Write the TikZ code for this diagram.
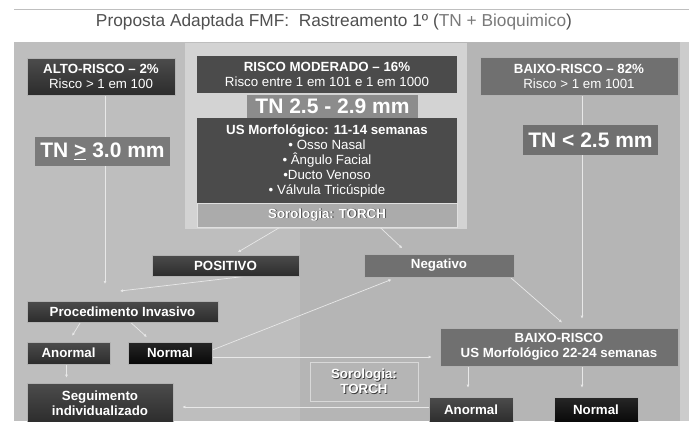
\documentclass[tikz,border=0pt]{standalone}
\usepackage{fontspec}
\setmainfont{Liberation Sans}
\usetikzlibrary{arrows.meta}
\pgfdeclarelayer{bg}
\pgfsetlayers{bg,main}
\definecolor{panelL}{HTML}{BEBEBE}
\definecolor{panelR}{HTML}{B5B5B5}
\definecolor{frameC}{HTML}{D3D3D3}
\definecolor{darkT}{HTML}{4C4C4C}
\definecolor{darkB}{HTML}{2C2C2C}
\definecolor{midC}{HTML}{707070}
\definecolor{modC}{HTML}{4B4B4B}
\definecolor{lineC}{HTML}{E8E8E8}
\definecolor{titleC}{HTML}{505050}
\newcommand\shd[1]{\makebox[0pt][l]{\kern0.8pt\raisebox{-0.8pt}{\textcolor[HTML]{3A3A3A}{#1}}}#1}
\tikzset{
  box/.style={rectangle, inner sep=0pt, align=center, text=white, draw=#1, line width=0.6pt},
  box/.default={gray!60},
  darkbox/.style={box, top color=darkT, bottom color=darkB},
  blackbox/.style={box, top color=black!85, bottom color=black!97},
  midbox/.style={box, fill=midC},
  modbox/.style={box, fill=modC, draw=none},
  txt/.style={font=\fontsize{13.3}{15}\selectfont},
  btxt/.style={font=\fontsize{13.3}{15}\selectfont\bfseries},
  big/.style={font=\fontsize{21}{24}\selectfont\bfseries},
  conn/.style={draw=lineC, line width=0.7pt, -{Latex[length=3pt,width=3pt]}},
}
\begin{document}
\begin{tikzpicture}[x=1pt,y=-1pt]
\useasboundingbox (0,0) rectangle (689,421);
% title
\node (title) at (334,22) {\fontsize{17.3}{19}\selectfont\textcolor{titleC}{Proposta Adaptada FMF:\ \ Rastreamento 1º (\textcolor[HTML]{7A7A7A}{TN + Bioquimico})}};
% left column
\node[darkbox, txt, minimum width=148pt, minimum height=37pt] (alto) at (101,76.5)
  {\textbf{ALTO-RISCO – 2\%}\\Risco > 1 em 100};
\node[box, fill=black!52, draw=none, big, minimum width=135pt, minimum height=29pt] (tn3) at (102.5,151.5)
  {TN \underline{>} 3.0 mm};
% middle column
\node[modbox, txt, minimum width=260pt, minimum height=37pt] (mod) at (327,74.5)
  {\textbf{RISCO MODERADO – 16\%}\\Risco entre 1 em 101 e 1 em 1000};
\node[box, fill=black!45, draw=none, big, minimum width=171pt, minimum height=23pt] (tn25) at (332.5,106.5)
  {TN 2.5 - 2.9 mm};
\node[modbox, txt, minimum width=260pt, minimum height=85pt] (us) at (327,160.5)
  {\textbf{US Morfológico: 11-14 semanas}\\• Osso Nasal\\• Ângulo Facial\\•Ducto Venoso\\• Válvula Tricúspide};
\node[box=white!88!black, fill=black!33, btxt, minimum width=260pt, minimum height=24pt] (sor) at (327,215)
  {\shd{Sorologia: TORCH}};
% right column
\node[midbox=white!80!black, txt, minimum width=198pt, minimum height=38pt] (baixo) at (579,76)
  {\textbf{BAIXO-RISCO – 82\%}\\Risco > 1 em 1001};
\node[box, fill=midC, draw=none, big, minimum width=135pt, minimum height=30pt] (tnlt) at (590.5,140)
  {TN < 2.5 mm};
% lower part
\node[darkbox, btxt, minimum width=147pt, minimum height=21pt] (pos) at (225.5,265.5) {POSITIVO};
\node[midbox=white!80!black, btxt, minimum width=150pt, minimum height=23pt] (neg) at (439,265.5) {Negativo};
\node[darkbox, btxt, minimum width=191pt, minimum height=21pt] (proc) at (122.5,311.5) {Procedimento Invasivo};
\node[darkbox, btxt, minimum width=83pt, minimum height=22pt] (anl) at (68.5,353) {Anormal};
\node[blackbox, btxt, minimum width=84pt, minimum height=22pt] (nol) at (170,353) {Normal};
\node[darkbox, btxt, minimum width=146pt, minimum height=40pt] (seg) at (100,403) {Seguimento\\individualizado};
\node[box=white!85!black, text=white, btxt, minimum width=108pt, minimum height=39pt] (sorb) at (364,381.5)
  {\shd{Sorologia:}\\\shd{TORCH}};
\node[midbox=white!80!black, btxt, minimum width=238pt, minimum height=38pt] (bus) at (559,347)
  {BAIXO-RISCO\\US Morfológico 22-24 semanas};
\node[darkbox, btxt, minimum width=84pt, minimum height=26pt] (anr) at (471,410) {Anormal};
\node[blackbox, btxt, minimum width=84pt, minimum height=26pt] (nor) at (596,410) {Normal};
% free ends and anchor points
\coordinate (e1) at (105,284);
\coordinate (e4) at (120,291);
\coordinate (n1) at ([yshift=-4pt]nol.east);
\coordinate (a1) at ([yshift=3pt]anr.west);
\begin{pgfonlayer}{bg}
  \fill[white] (0,0) rectangle (689,421);
  \draw[gray!50, line width=0.8pt] (14,9) -- (689,9);
  \fill[panelL] (14,42) rectangle (300,421);
  \fill[panelR] (300,42) rectangle (680,421);
  \fill[white!80!black] (680,42) rectangle (689,421);
  \fill[frameC] (185,43) rectangle (467,229);
  % connectors
  \draw[conn] (alto.south -| e1) -- (e1);
  \draw[conn, shorten >=5pt] ([xshift=-47pt]sor.south) -- ([xshift=8pt]pos.north);
  \draw[conn, shorten >=8pt] ([xshift=53pt]sor.south) -- ([xshift=-31pt]neg.north);
  \draw[conn] ([xshift=20pt]pos.south) -- (e4);
  \draw[conn, shorten >=7pt] ([xshift=-42pt]proc.south) -- (anl.north);
  \draw[conn, shorten >=7pt] ([xshift=8pt]proc.south) -- ([xshift=-18pt]nol.north);
  \draw[conn, shorten >=5pt] ([xshift=-2pt]anl.south) -- ([xshift=-33.5pt]seg.north);
  \draw[conn, shorten >=8pt] (n1) -- (bus.west |- n1);
  \draw[conn, shorten >=6pt] ([yshift=3pt]nol.east) -- ([xshift=-42pt]neg.south);
  \draw[conn, shorten >=8pt] ([xshift=-4pt]neg.south east) -- ([xshift=9pt]bus.north);
  \draw[conn, shorten >=9pt] ([xshift=3pt]baixo.south) -- ([xshift=23pt]bus.north);
  \draw[conn, shorten >=9pt] ([xshift=-91pt]bus.south) -- ([xshift=-3pt]anr.north);
  \draw[conn, shorten >=9pt] ([xshift=23pt]bus.south) -- ([xshift=-14pt]nor.north);
  \draw[conn, shorten >=9pt] (a1) -- (seg.east |- a1);
\end{pgfonlayer}
\end{tikzpicture}
\end{document}
